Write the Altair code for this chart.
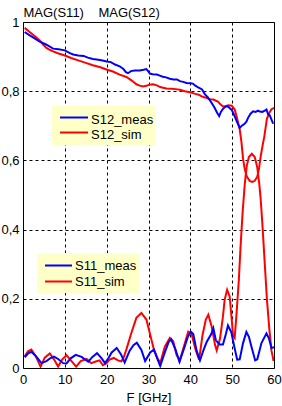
import altair as alt
import pandas as pd

# ---- data ----
s12_meas_f = [0.4, 1.5, 2.5, 4.0, 5.5, 7.2, 8.5, 10.0, 11.2, 12.0, 13.2, 14.5, 15.5, 16.7, 18.0, 19.0, 20.0,
              21.0, 22.0, 23.1, 24.0, 24.6, 25.1, 25.8, 26.7, 27.9, 28.8, 29.5, 30.0, 30.3, 31.0, 32.0, 32.7,
              33.4, 34.2, 35.1, 36.0, 36.8, 37.5, 38.3, 39.1, 40.0, 40.6, 41.2, 42.0, 42.8, 43.5, 44.2, 45.1,
              45.8, 46.4, 46.9, 47.3, 47.8, 48.4, 48.8, 49.3, 49.9, 50.5, 51.1, 51.8, 52.3, 52.9, 53.4, 53.8,
              54.4, 55.0, 55.6, 56.2, 56.6, 57.2, 57.8, 58.2, 58.6, 59.0, 59.4, 59.8]
s12_meas_v = [0.971, 0.962, 0.955, 0.943, 0.935, 0.923, 0.921, 0.918, 0.910, 0.906, 0.903, 0.902, 0.897, 0.893,
              0.891, 0.889, 0.886, 0.884, 0.877, 0.872, 0.864, 0.855, 0.852, 0.858, 0.860, 0.860, 0.862, 0.864,
              0.857, 0.851, 0.849, 0.848, 0.845, 0.842, 0.840, 0.836, 0.834, 0.834, 0.829, 0.827, 0.824, 0.823,
              0.822, 0.816, 0.810, 0.805, 0.791, 0.782, 0.766, 0.752, 0.738, 0.728, 0.740, 0.749, 0.755, 0.757,
              0.752, 0.746, 0.730, 0.713, 0.694, 0.700, 0.705, 0.712, 0.723, 0.735, 0.742, 0.740, 0.744, 0.741,
              0.740, 0.744, 0.747, 0.733, 0.730, 0.718, 0.706]

s12_sim_f = [0.4, 1.5, 2.4, 3.2, 4.0, 4.8, 5.6, 6.5, 7.2, 8.5, 10.0, 11.5, 13.2, 15.0, 16.7, 18.5, 20.1, 21.5,
             23.1, 24.7, 25.5, 26.3, 27.1, 27.9, 28.7, 29.5, 30.3, 31.1, 32.0, 32.8, 33.5, 34.3, 35.5, 36.5,
             37.5, 38.7, 39.9, 41.0, 42.0, 42.7, 43.5, 44.7, 45.5, 46.6, 47.2, 47.8, 48.5, 49.2, 49.9, 50.3,
             50.6, 51.0, 51.4, 51.8, 52.2, 52.6, 53.0, 53.5, 54.2, 54.8, 55.4, 56.0, 56.4, 56.8, 57.3, 57.7,
             58.3, 58.9, 59.4, 60.0]
s12_sim_v = [0.983, 0.972, 0.963, 0.955, 0.947, 0.935, 0.925, 0.919, 0.915, 0.909, 0.903, 0.896, 0.889, 0.882,
             0.875, 0.869, 0.862, 0.857, 0.848, 0.841, 0.835, 0.828, 0.820, 0.816, 0.814, 0.816, 0.819, 0.820,
             0.817, 0.812, 0.810, 0.808, 0.807, 0.806, 0.804, 0.800, 0.797, 0.793, 0.790, 0.785, 0.782, 0.777,
             0.776, 0.770, 0.762, 0.756, 0.757, 0.759, 0.758, 0.752, 0.747, 0.730, 0.710, 0.690, 0.655, 0.605,
             0.575, 0.553, 0.541, 0.538, 0.541, 0.553, 0.575, 0.610, 0.645, 0.670, 0.720, 0.738, 0.748, 0.752]

s11_meas_f = [0.4, 1.2, 2.0, 3.2, 4.4, 5.6, 6.5, 7.4, 8.4, 9.6, 10.4, 11.4, 12.6, 14.0, 15.6, 16.6, 17.7, 18.8,
              19.6, 20.4, 21.2, 22.4, 23.4, 24.3, 25.5, 26.4, 27.2, 28.3, 29.2, 30.4, 31.3, 32.0, 32.8, 33.9,
              34.8, 35.4, 36.4, 37.4, 38.6, 39.4, 40.1, 40.7, 41.5, 42.3, 43.1, 43.9, 45.0, 45.5, 46.1, 47.0,
              47.8, 48.5, 49.0, 49.8, 50.5, 51.2, 51.8, 52.6, 53.4, 54.0, 54.6, 55.5, 56.0, 57.0, 58.2, 58.8,
              59.4, 60.0]
s11_meas_v = [0.031, 0.042, 0.047, 0.033, 0.014, 0.020, 0.028, 0.033, 0.026, 0.014, 0.013, 0.028, 0.038, 0.032,
              0.018, 0.032, 0.043, 0.028, 0.014, 0.028, 0.045, 0.058, 0.040, 0.016, 0.050, 0.066, 0.073, 0.052,
              0.020, 0.045, 0.053, 0.030, 0.006, 0.045, 0.075, 0.083, 0.055, 0.018, 0.060, 0.090, 0.105, 0.098,
              0.050, 0.022, 0.050, 0.075, 0.098, 0.115, 0.080, 0.068, 0.068, 0.098, 0.123, 0.103, 0.062, 0.024,
              0.025, 0.072, 0.104, 0.090, 0.062, 0.022, 0.025, 0.072, 0.100, 0.085, 0.058, 0.060]

s11_sim_f = [0.4, 1.2, 2.0, 3.0, 4.2, 5.2, 6.4, 7.4, 8.4, 9.4, 10.4, 11.6, 12.7, 13.8, 15.2, 16.3, 17.2, 18.3,
             19.1, 19.9, 20.7, 21.7, 22.7, 23.5, 24.0, 24.7, 25.9, 27.1, 28.3, 29.5, 30.3, 31.3, 32.3, 32.9,
             33.9, 35.1, 35.9, 36.7, 37.5, 38.7, 39.5, 40.3, 41.2, 42.1, 42.9, 43.7, 44.3, 45.1, 45.9, 46.3,
             47.1, 47.8, 48.2, 48.8, 49.4, 49.9, 50.2, 50.6, 51.0, 51.6, 52.0, 52.5, 53.0, 53.5, 54.0, 54.7,
             55.4, 56.0, 56.5, 56.8, 57.2, 57.6, 57.9, 58.3, 58.9, 59.4, 59.9]
s11_sim_v = [0.034, 0.048, 0.053, 0.035, 0.004, 0.030, 0.042, 0.025, 0.004, 0.025, 0.037, 0.020, 0.004, 0.020,
             0.026, 0.014, 0.018, 0.022, 0.008, 0.013, 0.024, 0.029, 0.022, 0.019, 0.028, 0.053, 0.101, 0.145,
             0.159, 0.140, 0.101, 0.053, 0.024, 0.018, 0.062, 0.087, 0.077, 0.038, 0.022, 0.072, 0.105, 0.098,
             0.055, 0.024, 0.094, 0.140, 0.154, 0.120, 0.067, 0.051, 0.085, 0.149, 0.197, 0.226, 0.207, 0.140,
             0.094, 0.087, 0.149, 0.255, 0.350, 0.450, 0.530, 0.585, 0.610, 0.619, 0.610, 0.580, 0.530, 0.490,
             0.420, 0.340, 0.280, 0.200, 0.110, 0.050, 0.020]

x_ticks = [0, 10, 20, 30, 40, 50, 60]
y_ticks = [0, 0.2, 0.4, 0.6, 0.8, 1.0]

series_names = ["S12_meas", "S12_sim", "S11_meas", "S11_sim"]
series_colors = ["#0000FF", "#FF0000", "#0000FF", "#FF0000"]


def frame(name, f, v):
    return pd.DataFrame({"f": f, "v": v, "series": name})


df12m = frame("S12_meas", s12_meas_f, s12_meas_v)
df12s = frame("S12_sim", s12_sim_f, s12_sim_v)
df11m = frame("S11_meas", s11_meas_f, s11_meas_v)
df11s = frame("S11_sim", s11_sim_f, s11_sim_v)

FONT = "Liberation Sans"
FS = 13
LEGEND_FILL = "#FFFFC8"

x_enc = alt.X("f:Q", scale=alt.Scale(domain=[0, 60], nice=False, zero=False),
              axis=alt.Axis(values=x_ticks, title="F [GHz]", labelPadding=5, titlePadding=5,
                            labelFlush=False))
y_enc = alt.Y("v:Q", scale=alt.Scale(domain=[0, 1], nice=False),
              axis=alt.Axis(values=y_ticks, title="MAG(S11)\u00a0\u00a0\u00a0\u00a0MAG(S12)",
                            titleAngle=0, titleX=0, titleY=-6, titleAlign="left",
                            titleBaseline="alphabetic", labelPadding=4, labelFlush=False,
                            labelExpr="datum.value == 0 ? '0' : datum.value == 1 ? '1' : replace(format(datum.value, '.1f'), '.', ',')"))
color_enc = alt.Color("series:N", scale=alt.Scale(domain=series_names, range=series_colors), legend=None)


def line(df):
    return alt.Chart(df).mark_line(strokeWidth=2, clip=True).encode(x=x_enc, y=y_enc, color=color_enc)


one = pd.DataFrame({"k": [0]})


def legend_box(x0, x1, y0, y1):
    return alt.Chart(one).mark_rect(fill=LEGEND_FILL).encode(
        x=alt.value(x0), x2=alt.value(x1), y=alt.value(y0), y2=alt.value(y1))


def legend_entry(name, color, lx0, lx1, ly, tx, ty):
    rule = alt.Chart(one).mark_rule(color=color, strokeWidth=2).encode(
        x=alt.value(lx0), x2=alt.value(lx1), y=alt.value(ly))
    txt = alt.Chart(one).mark_text(align="left", baseline="alphabetic", font=FONT, fontSize=FS,
                                   color="black").encode(x=alt.value(tx), y=alt.value(ty),
                                                         text=alt.value(name))
    return [rule, txt]


legend_layers = [legend_box(29, 132, 84, 123)]
legend_layers += legend_entry(series_names[0], series_colors[0], 37, 65, 95.5, 68, 101.5)
legend_layers += legend_entry(series_names[1], series_colors[1], 37, 65, 110.5, 68, 116.5)
legend_layers += [legend_box(14, 116, 231, 271)]
legend_layers += legend_entry(series_names[2], series_colors[2], 22, 49, 243.5, 52, 248)
legend_layers += legend_entry(series_names[3], series_colors[3], 22, 49, 259.5, 52, 264)

chart = alt.layer(
    line(df12s), line(df12m), line(df11s), line(df11m), *legend_layers
).properties(
    width=251, height=346,
    padding={"left": 23, "top": 22, "right": 8, "bottom": 38},
    autosize=alt.AutoSizeParams(type="none"),
    background="white",
).configure_view(stroke="black", strokeWidth=1).configure_axis(
    grid=True, gridColor="black", gridDash=[3, 3], gridOpacity=1, gridWidth=1,
    domain=False, ticks=False,
    labelFont=FONT, labelFontSize=FS, labelColor="black",
    titleFont=FONT, titleFontSize=FS, titleColor="black", titleFontWeight="normal",
)

chart.save("out.html", embed_options={"renderer": "svg", "actions": False})
